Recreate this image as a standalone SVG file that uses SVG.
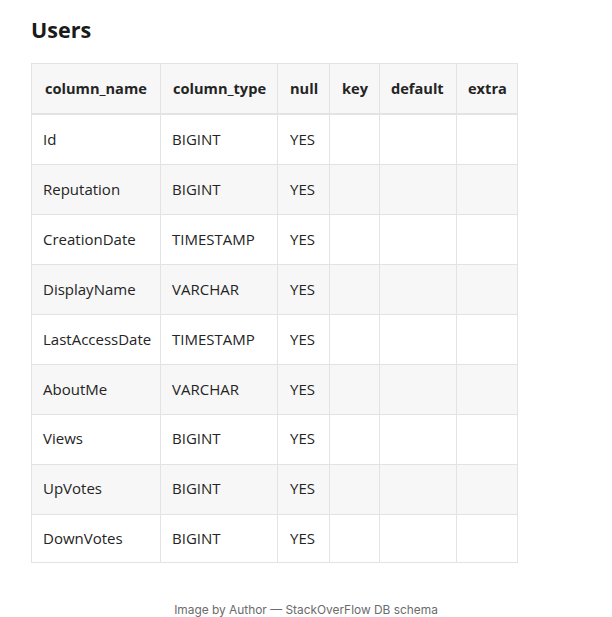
<svg xmlns="http://www.w3.org/2000/svg" width="612" height="617" viewBox="0 0 612 617">
<style>
.t{font-family:"Open Sans","Noto Sans",sans-serif;font-size:15px;fill:#242424}
.h{font-family:"Open Sans","Noto Sans",sans-serif;font-size:14.6px;font-weight:bold;fill:#242424}
.ti{font-family:"Open Sans","Noto Sans",sans-serif;font-size:21.5px;font-weight:bold;fill:#1a1a1a}
.cap{font-family:"Inter","Liberation Sans",sans-serif;font-size:11.9px;fill:#6b6b6b}
.g{fill:#f7f7f7}
.ln{stroke:#e3e3e3;stroke-width:1;fill:none}
</style>
<rect width="612" height="617" fill="#ffffff"/>
<text class="ti" x="31" y="38">Users</text>
<g id="table">
<rect class="g" x="31" y="64" width="486" height="50"/>
<rect class="g" x="31" y="164" width="486" height="50"/>
<rect class="g" x="31" y="264" width="486" height="50"/>
<rect class="g" x="31" y="364" width="486" height="50"/>
<rect class="g" x="31" y="464" width="486" height="50"/>
<g class="ln">
<rect x="31.5" y="63.5" width="486" height="499"/>
<line x1="31" y1="114" x2="517" y2="114" stroke-width="2"/>
<line x1="31" y1="164.5" x2="517" y2="164.5"/>
<line x1="31" y1="214.5" x2="517" y2="214.5"/>
<line x1="31" y1="264.5" x2="517" y2="264.5"/>
<line x1="31" y1="314.5" x2="517" y2="314.5"/>
<line x1="31" y1="364.5" x2="517" y2="364.5"/>
<line x1="31" y1="414.5" x2="517" y2="414.5"/>
<line x1="31" y1="464.5" x2="517" y2="464.5"/>
<line x1="31" y1="514.5" x2="517" y2="514.5"/>
<line x1="160.5" y1="64" x2="160.5" y2="563"/>
<line x1="277.5" y1="64" x2="277.5" y2="563"/>
<line x1="329.5" y1="64" x2="329.5" y2="563"/>
<line x1="379.5" y1="64" x2="379.5" y2="563"/>
<line x1="456.5" y1="64" x2="456.5" y2="563"/>
</g>
<g id="header">
<text class="h" x="45" y="94">column_name</text>
<text class="h" x="173" y="94">column_type</text>
<text class="h" x="290" y="94">null</text>
<text class="h" x="342" y="94">key</text>
<text class="h" x="391" y="94">default</text>
<text class="h" x="468" y="94">extra</text>
</g>
<g id="row-id"><text class="t" x="43" y="145">Id</text><text class="t" x="172" y="145">BIGINT</text><text class="t" x="290" y="145">YES</text></g>
<g id="row-reputation"><text class="t" x="43" y="195">Reputation</text><text class="t" x="172" y="195">BIGINT</text><text class="t" x="290" y="195">YES</text></g>
<g id="row-creationdate"><text class="t" x="43" y="245">CreationDate</text><text class="t" x="172" y="245">TIMESTAMP</text><text class="t" x="290" y="245">YES</text></g>
<g id="row-displayname"><text class="t" x="43" y="295">DisplayName</text><text class="t" x="172" y="295">VARCHAR</text><text class="t" x="290" y="295">YES</text></g>
<g id="row-lastaccessdate"><text class="t" x="43" y="345">LastAccessDate</text><text class="t" x="172" y="345">TIMESTAMP</text><text class="t" x="290" y="345">YES</text></g>
<g id="row-aboutme"><text class="t" x="43" y="395">AboutMe</text><text class="t" x="172" y="395">VARCHAR</text><text class="t" x="290" y="395">YES</text></g>
<g id="row-views"><text class="t" x="43" y="444">Views</text><text class="t" x="172" y="444">BIGINT</text><text class="t" x="290" y="444">YES</text></g>
<g id="row-upvotes"><text class="t" x="43" y="494">UpVotes</text><text class="t" x="172" y="494">BIGINT</text><text class="t" x="290" y="494">YES</text></g>
<g id="row-downvotes"><text class="t" x="43" y="544">DownVotes</text><text class="t" x="172" y="544">BIGINT</text><text class="t" x="290" y="544">YES</text></g>
</g>
<text class="cap" x="306" y="614" text-anchor="middle">Image by Author — StackOverFlow DB schema</text>
</svg>
